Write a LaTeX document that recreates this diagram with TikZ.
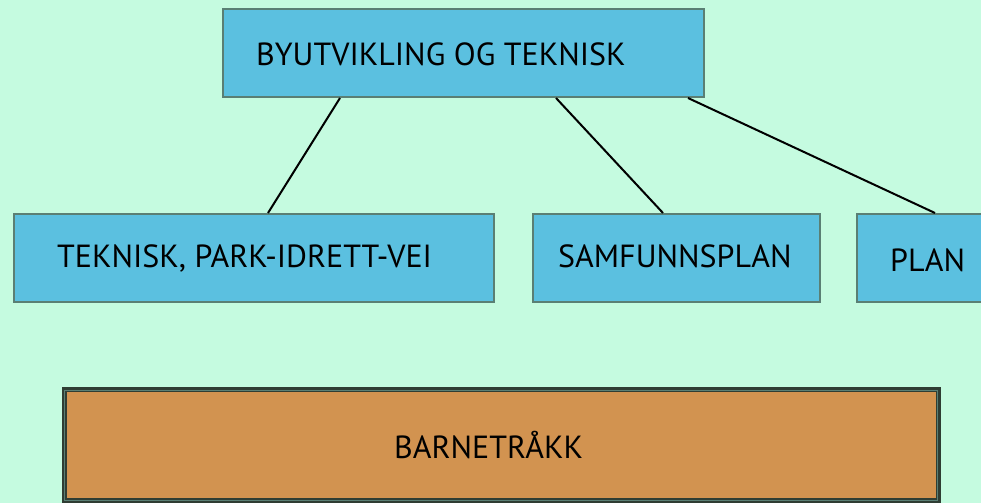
\documentclass[tikz,border=0pt]{standalone}
\usepackage{fontspec}
\setmainfont{PT Sans}
\usetikzlibrary{calc}
\definecolor{bg}{HTML}{C5FBE0}
\definecolor{boxfill}{HTML}{5BC0E0}
\definecolor{boxline}{HTML}{5A7F74}
\definecolor{orangefill}{HTML}{D29350}
\definecolor{darkline}{HTML}{2F3D33}
\begin{document}
\begin{tikzpicture}[x=1pt,y=-1pt,
  bluebox/.style={draw=boxline, line width=2pt, fill=boxfill, rectangle, inner sep=0pt},
  lbl/.style={inner sep=0pt, anchor=base west, font=\fontsize{32}{38}\selectfont},
  conn/.style={line width=2pt, black}]
\fill[bg] (0,0) rectangle (981,503);
\useasboundingbox (0,0) rectangle (981,503);
\clip (0,0) rectangle (981,503);
% boxes
\node[bluebox, minimum width=481pt, minimum height=88pt] (top) at (463.5,53) {};
\node[bluebox, minimum width=480pt, minimum height=88pt] (tek) at (254,258) {};
\node[bluebox, minimum width=287pt, minimum height=88pt] (sam) at (676.5,258) {};
\node[bluebox, minimum width=160pt, minimum height=88pt] (plan) at (937,258) {};
\node[draw=darkline, line width=5pt, fill=orangefill, rectangle, inner sep=0pt,
  minimum width=874pt, minimum height=111pt] (barn) at (501,445) {};
\draw[boxline, line width=0.8pt] ($(barn.north west)+(3,3)$) rectangle ($(barn.south east)+(-3,-3)$);
% labels
\node[lbl] (ttop) at (256,65) {BYUTVIKLING OG TEKNISK};
\node[lbl] (ttek) at (57,267) {TEKNISK, PARK-IDRETT-VEI};
\node[lbl] (tsam) at (558,267) {SAMFUNNSPLAN};
\node[lbl] (tplan) at (890,271) {PLAN};
\node[lbl] (tbarn) at (394,458) {BARNETRÅKK};
% connectors
\coordinate (a1) at ($(top.south west)+(118,0)$);
\coordinate (a2) at ($(top.south west)+(334,0)$);
\coordinate (a3) at ($(top.south west)+(466,0)$);
\coordinate (b1) at ($(tek.north west)+(255,0)$);
\coordinate (b2) at ($(sam.north west)+(131,0)$);
\coordinate (b3) at ($(plan.north west)+(79,0)$);
\draw[conn] (a1) -- (b1);
\draw[conn] (a2) -- (b2);
\draw[conn] (a3) -- (b3);
\end{tikzpicture}
\end{document}
